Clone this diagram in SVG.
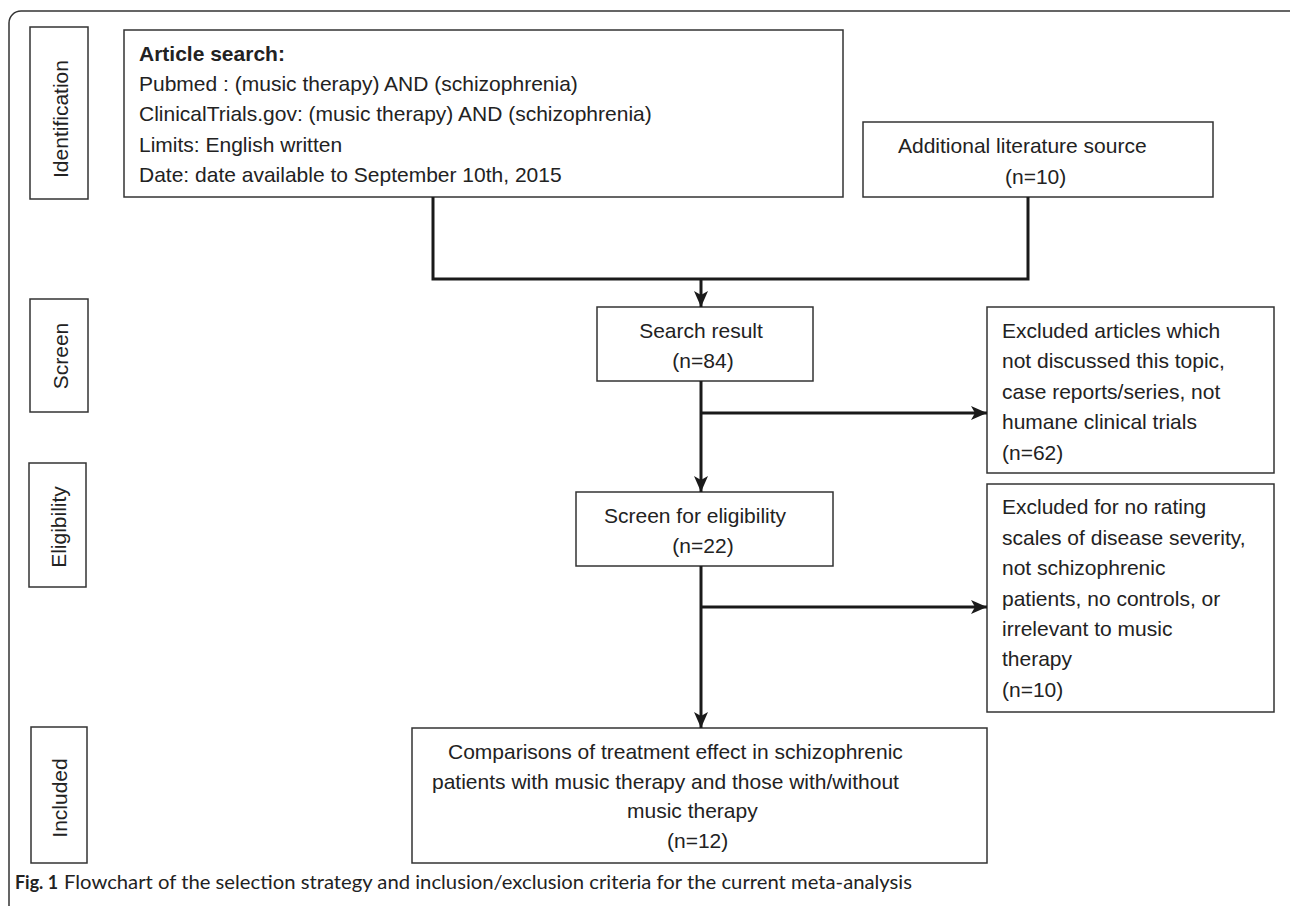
<svg xmlns="http://www.w3.org/2000/svg" width="1290" height="906" viewBox="0 0 1290 906">
<defs>
<style>
.box{fill:#fff;stroke:#333;stroke-width:1.5}
.t{font-family:"Liberation Sans",Arial,sans-serif;font-size:21px;fill:#222}
.b{font-weight:bold}
.c{text-anchor:middle}
.con{fill:none;stroke:#1a1a1a;stroke-width:3}
.cap{font-family:Lato,"Open Sans",sans-serif;font-size:19px;fill:#222}
</style>
<marker id="ah" viewBox="0 0 16 14" refX="16" refY="7" markerWidth="16" markerHeight="14" markerUnits="userSpaceOnUse" orient="auto">
<path d="M0,0 L16,7 L0,14 L4,7 z" fill="#1a1a1a"/>
</marker>
</defs>
<rect x="9" y="11" width="1300" height="1000" rx="12" ry="12" fill="#fff" stroke="#333" stroke-width="1.5"/>

<g id="stage-identification">
<rect class="box" x="30" y="27" width="58" height="172"/>
<text class="t c" x="68" y="119" transform="rotate(-90 68 119)">Identification</text>
</g>
<g id="stage-screen">
<rect class="box" x="30" y="299" width="58" height="113"/>
<text class="t c" x="68" y="356" transform="rotate(-90 68 356)">Screen</text>
</g>
<g id="stage-eligibility">
<rect class="box" x="29" y="463" width="57" height="124"/>
<text class="t c" x="66" y="527" transform="rotate(-90 66 527)">Eligibility</text>
</g>
<g id="stage-included">
<rect class="box" x="31" y="727" width="56" height="136"/>
<text class="t c" x="67" y="798" transform="rotate(-90 67 798)">Included</text>
</g>

<g id="article-search">
<rect class="box" x="124" y="30" width="719" height="167"/>
<text class="t b" x="139" y="61">Article search:</text>
<text class="t" x="139" y="91">Pubmed : (music therapy) AND (schizophrenia)</text>
<text class="t" x="139" y="121">ClinicalTrials.gov: (music therapy) AND (schizophrenia)</text>
<text class="t" x="139" y="152">Limits: English written</text>
<text class="t" x="139" y="182">Date: date available to September 10th, 2015</text>
</g>

<g id="additional-source">
<rect class="box" x="863" y="122" width="350" height="75"/>
<text class="t" x="898" y="153">Additional literature source</text>
<text class="t" x="1005" y="184">(n=10)</text>
</g>

<g id="search-result">
<rect class="box" x="597" y="307" width="216" height="74"/>
<text class="t c" x="701" y="338">Search result</text>
<text class="t c" x="703" y="368">(n=84)</text>
</g>

<g id="excluded-1">
<rect class="box" x="987" y="307" width="287" height="166"/>
<text class="t" x="1002" y="338">Excluded articles  which</text>
<text class="t" x="1002" y="368">not discussed this topic,</text>
<text class="t" x="1002" y="399">case reports/series, not</text>
<text class="t" x="1002" y="429">humane clinical trials</text>
<text class="t" x="1002" y="460">(n=62)</text>
</g>

<g id="screen-eligibility">
<rect class="box" x="576" y="492" width="257" height="74"/>
<text class="t" x="604" y="523">Screen for eligibility</text>
<text class="t c" x="703" y="553">(n=22)</text>
</g>

<g id="excluded-2">
<rect class="box" x="987" y="484" width="287" height="228"/>
<text class="t" x="1002" y="514">Excluded for no rating</text>
<text class="t" x="1002" y="545">scales of disease severity,</text>
<text class="t" x="1002" y="575">not schizophrenic</text>
<text class="t" x="1002" y="606">patients,  no controls, or</text>
<text class="t" x="1002" y="636">irrelevant to music</text>
<text class="t" x="1002" y="666">therapy</text>
<text class="t" x="1002" y="697">(n=10)</text>
</g>

<g id="included">
<rect class="box" x="412" y="728" width="575" height="135"/>
<text class="t" x="448" y="759">Comparisons of treatment effect in schizophrenic</text>
<text class="t" x="432" y="789">patients with music therapy and those with/without</text>
<text class="t" x="627" y="818">music therapy</text>
<text class="t" x="667" y="848">(n=12)</text>
</g>

<g id="connectors">
<path class="con" d="M433,197 V279 H1028 V197"/>
<path class="con" d="M701,279 V307" marker-end="url(#ah)"/>
<path class="con" d="M701,381 V492" marker-end="url(#ah)"/>
<path class="con" d="M701,413 H987" marker-end="url(#ah)"/>
<path class="con" d="M701,566 V728" marker-end="url(#ah)"/>
<path class="con" d="M701,607 H987" marker-end="url(#ah)"/>
</g>

<text class="cap" y="889"><tspan x="15" font-weight="bold" textLength="43" lengthAdjust="spacingAndGlyphs">Fig. 1</tspan><tspan x="64" textLength="848" lengthAdjust="spacingAndGlyphs">Flowchart of the selection strategy and inclusion/exclusion criteria for the current meta-analysis</tspan></text>
</svg>
